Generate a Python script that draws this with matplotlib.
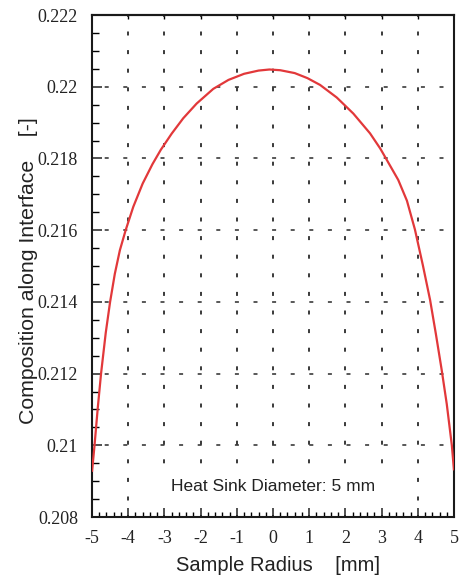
import matplotlib
matplotlib.use("Agg")
import matplotlib.pyplot as plt
import numpy as np

plt.rcParams['axes.unicode_minus'] = False
plt.rcParams['lines.scale_dashes'] = False

# ---- data ----
radius = [-5.0, -4.93, -4.84, -4.75, -4.62, -4.50, -4.37, -4.23, -4.07, -3.86,
          -3.60, -3.33, -3.10, -2.80, -2.48, -2.11, -1.65, -1.23, -0.80, -0.40,
          -0.10, 0.20, 0.60, 0.95, 1.30, 1.76, 2.22, 2.68, 2.96, 3.12,
          3.46, 3.70, 3.92, 4.14, 4.34, 4.50, 4.66, 4.80, 4.94, 5.0]
composition = [0.20926, 0.21000, 0.21105, 0.21200, 0.21314, 0.21400, 0.21478, 0.21544, 0.21600, 0.21665,
               0.21730, 0.21784, 0.21824, 0.21869, 0.21912, 0.21953, 0.21994, 0.22019, 0.22036, 0.22045,
               0.22048, 0.22046, 0.22038, 0.22024, 0.22005, 0.21970, 0.21925, 0.21870, 0.21828, 0.21800,
               0.21740, 0.21682, 0.21602, 0.21502, 0.21405, 0.21310, 0.21210, 0.21115, 0.21000, 0.20930]

x_ticks = [-5, -4, -3, -2, -1, 0, 1, 2, 3, 4, 5]
x_ticklabels = ['-5', '-4', '-3', '-2', '-1', '0', '1', '2', '3', '4', '5']
y_ticks = [0.208, 0.210, 0.212, 0.214, 0.216, 0.218, 0.220, 0.222]
y_ticklabels = ['0.208', '0.21', '0.212', '0.214', '0.216', '0.218', '0.22', '0.222']
annotation = 'Heat Sink Diameter: 5 mm'

SANS = ['Liberation Sans', 'DejaVu Sans']
SERIF = ['Liberation Serif', 'DejaVu Serif']

fig = plt.figure(figsize=(4.61, 5.81), dpi=100)
ax = fig.add_axes([0.19957, 0.11015, 0.78525, 0.86403])
ax.set_xlim(-5, 5)
ax.set_ylim(0.208, 0.222)

# grid: sparse dashes
px = 72 / 100.0  # points per pixel
period = 18.6 * px
on = 4.0 * px
for yv in y_ticks[1:-1]:
    ax.axhline(yv, color='#2a2a2a', lw=1.1,
               linestyle=(period - 12.7 * px, (on, period - on)), zorder=1)
for xv in x_ticks[1:-1]:
    ax.axvline(xv, color='#2a2a2a', lw=1.3,
               linestyle=(period - 16.5 * px, (on, period - on)), zorder=1)

ax.plot(radius, composition, color='#e2383a', lw=1.6, zorder=3,
        solid_capstyle='butt', solid_joinstyle='round')

ax.text(0.0, 0.20886, annotation, ha='center', va='center', fontsize=12.5,
        family=SANS, color='#222222', zorder=4,
        bbox=dict(facecolor='white', edgecolor='none', pad=9))

# ticks
ax.set_xticks(x_ticks)
ax.set_xticklabels(x_ticklabels, family=SERIF, fontsize=13)
ax.set_xticks(np.arange(-5, 5.001, 0.2), minor=True)
ax.set_yticks(y_ticks)
ax.set_yticklabels(y_ticklabels, family=SERIF, fontsize=13)
ax.set_yticks(np.arange(0.208, 0.2220001, 0.0005), minor=True)

ax.tick_params(axis='x', which='major', direction='in', length=6.5, width=1.1,
               top=False, pad=9, colors='#222222')
ax.tick_params(axis='x', which='minor', direction='in', length=3.5, width=1.0, top=False)
ax.tick_params(axis='y', which='major', direction='in', length=7.2, width=1.1,
               right=False, pad=10, colors='#222222')
ax.tick_params(axis='y', which='minor', direction='in', length=5.0, width=1.0, right=False)

sec = ax.secondary_xaxis('top')
sec.set_xticks(x_ticks[1:-1])
sec.tick_params(direction='in', length=3, width=1.0, labeltop=False)
sec.xaxis.set_minor_locator(matplotlib.ticker.NullLocator())
sec.spines['top'].set_linewidth(1.5)

for s in ax.spines.values():
    s.set_linewidth(1.5)
    s.set_color('#1a1a1a')

ax.set_xlabel('Sample Radius    [mm]', family=SANS, fontsize=14.5, color='#222222')
ax.xaxis.set_label_coords(0.515, -0.078)
ax.set_ylabel('Composition along Interface    [-]', family=SANS, fontsize=15.3, color='#222222')
ax.yaxis.set_label_coords(-0.150, 0.49)

fig.savefig('out.png', dpi=100)
